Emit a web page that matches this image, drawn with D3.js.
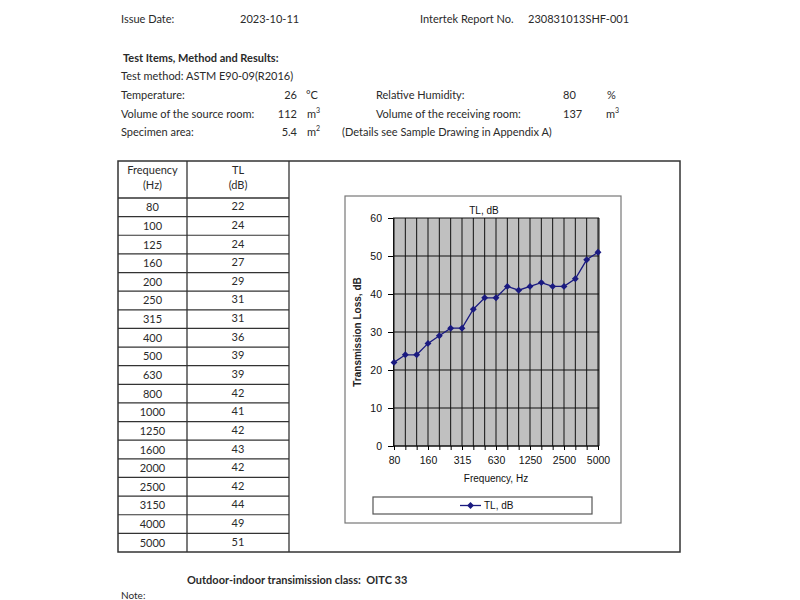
<!DOCTYPE html>
<html><head><meta charset="utf-8">
<script src="https://cdn.jsdelivr.net/npm/d3@7"></script>
<style>body{margin:0;background:#fff}svg{display:block}text{white-space:pre}</style>
</head><body>
<svg id="c" width="800" height="600"></svg>
<script>
const frequencies = ["80","100","125","160","200","250","315","400","500","630","800","1000","1250","1600","2000","2500","3150","4000","5000"];
const tlValues = [22,24,24,27,29,31,31,36,39,39,42,41,42,43,42,42,44,49,51];
const xTickLabels = ["80","160","315","630","1250","2500","5000"];
const yTicks = [0,10,20,30,40,50,60];

const svg = d3.select("#c");
const txtFont = "Lato, 'Open Sans', sans-serif";
const ink = "#2a2a2a";

function t(x,y,s,o={}){
  const e = svg.append("text").attr("x",x).attr("y",y).attr("font-family",o.font||txtFont)
    .attr("font-size",o.size||11).attr("fill",o.fill||ink).attr("text-anchor",o.anchor||"start")
    .attr("font-weight",o.weight||"normal").text(s);
  return e;
}
function sup(x,y,base,s){
  const e = t(x,y,base);
  e.append("tspan").attr("dy",-5).attr("font-size",7).text(s);
}
// header
t(121,23,"Issue Date:");
t(240,23,"2023-10-11");
t(420,23,"Intertek Report No.");
t(528,23,"230831013SHF-001");
t(123,62,"Test Items, Method and Results:",{weight:"bold"});
t(121,80,"Test method: ASTM E90-09(R2016)");
t(121,99,"Temperature:");
t(297,99,"26",{anchor:"end"});
t(306,99,"°C");
t(376,99,"Relative Humidity:");
t(563,99,"80");
t(607,99,"%");
t(121,118,"Volume of the source room:");
t(297,118,"112",{anchor:"end"});
sup(307,118,"m","3");
t(376,118,"Volume of the receiving room:");
t(563,118,"137");
sup(606,118,"m","3");
t(121,136,"Specimen area:");
t(297,136,"5.4",{anchor:"end"});
sup(307,136,"m","2");
t(342,136,"(Details see Sample Drawing in Appendix A)");

// table
const tL=118, c1=187, c2=289, tR=680, tTop=161, hB=198, tB=552;
const rowY = d3.scaleBand().domain(frequencies).range([hB,tB]);
const g = svg.append("g");
g.append("rect").attr("x",tL).attr("y",tTop).attr("width",tR-tL).attr("height",tB-tTop)
  .attr("fill","none").attr("stroke","#333").attr("stroke-width",1.5);
[c1,c2].forEach(x=>g.append("line").attr("x1",x).attr("x2",x).attr("y1",tTop).attr("y2",tB).attr("stroke","#333").attr("stroke-width",1.3));
g.append("line").attr("x1",tL).attr("x2",c2).attr("y1",hB).attr("y2",hB).attr("stroke","#333").attr("stroke-width",1.3);
frequencies.forEach((f,i)=>{
  if(i>0) g.append("line").attr("x1",tL).attr("x2",c2).attr("y1",rowY(f)).attr("y2",rowY(f)).attr("stroke","#333").attr("stroke-width",1.2);
  const cy = rowY(f)+rowY.bandwidth()/2+4;
  t((tL+c1)/2,cy,f,{anchor:"middle"});
  t((c1+c2)/2,cy-1,String(tlValues[i]),{anchor:"middle"});
});
t((tL+c1)/2,174,"Frequency",{anchor:"middle"});
t((tL+c1)/2,189,"(Hz)",{anchor:"middle"});
t((c1+c2)/2,174,"TL",{anchor:"middle"});
t((c1+c2)/2,189,"(dB)",{anchor:"middle"});

// chart frame
const cf = "'Liberation Sans', Arial, sans-serif";
svg.append("rect").attr("x",345).attr("y",196).attr("width",276).attr("height",327)
  .attr("fill","#fff").attr("stroke","#777").attr("stroke-width",1.2);

const x = d3.scalePoint().domain(frequencies).range([394,598]);
const y = d3.scaleLinear().domain([0,60]).range([446,218]);
const pL=393, pR=599;
svg.append("rect").attr("x",pL).attr("y",y(60)).attr("width",pR-pL).attr("height",y(0)-y(60)).attr("fill","#c0c0c0");
frequencies.forEach(f=>svg.append("line").attr("x1",x(f)).attr("x2",x(f)).attr("y1",y(60)).attr("y2",y(0)).attr("stroke","#111").attr("stroke-width",1));
svg.append("line").attr("x1",pR).attr("x2",pR).attr("y1",y(60)).attr("y2",y(0)).attr("stroke","#111").attr("stroke-width",1);
yTicks.forEach(v=>svg.append("line").attr("x1",pL).attr("x2",pR).attr("y1",y(v)).attr("y2",y(v)).attr("stroke","#111").attr("stroke-width",1));

// axes
const yAxis = d3.axisLeft(y).tickValues(yTicks).tickSize(5).tickPadding(6);
const ya = svg.append("g").attr("transform",`translate(${pL},0)`).call(yAxis);
ya.select(".domain").attr("stroke","#111");
ya.selectAll("text").attr("font-family",cf).attr("font-size",10.5).attr("fill","#111");
const xAxis = d3.axisBottom(x).tickSize(4).tickPadding(7).tickFormat(d=>xTickLabels.includes(d)?d:"");
const xa = svg.append("g").attr("transform",`translate(0,${y(0)})`).call(xAxis);
xa.select(".domain").attr("d",`M${pL},0H${pR}`).attr("stroke","#111");
xa.selectAll("text").attr("font-family",cf).attr("font-size",10.5).attr("fill","#111");

// titles
t(484,214,"TL, dB",{font:cf,size:10,anchor:"middle",fill:"#111"});
t(496,482,"Frequency, Hz",{font:cf,size:10,anchor:"middle",fill:"#111"});
svg.append("text").attr("transform","translate(361,332) rotate(-90)").attr("text-anchor","middle")
  .attr("font-family",cf).attr("font-size",10).attr("font-weight","bold").attr("fill","#222").text("Transmission Loss, dB");

// series
const navy = "#1a1a80";
svg.append("path").datum(tlValues).attr("fill","none").attr("stroke",navy).attr("stroke-width",1.3)
  .attr("d",d3.line().x((d,i)=>x(frequencies[i])).y(d=>y(d)));
const diamond = d3.symbol().type(d3.symbolDiamond2).size(30);
svg.selectAll("path.m").data(tlValues).enter().append("path").attr("class","m")
  .attr("d",diamond).attr("fill",navy)
  .attr("transform",(d,i)=>`translate(${x(frequencies[i])},${y(d)})`);

// legend
svg.append("rect").attr("x",373).attr("y",497).attr("width",219).attr("height",17).attr("fill","#fff").attr("stroke","#555").attr("stroke-width",1.2);
svg.append("line").attr("x1",460).attr("x2",481).attr("y1",505.5).attr("y2",505.5).attr("stroke",navy).attr("stroke-width",1.3);
svg.append("path").attr("d",diamond).attr("fill",navy).attr("transform","translate(470.5,505.5)");
t(484,509,"TL, dB",{font:cf,size:10,fill:"#111"});

// footer
t(187,584,"Outdoor-indoor transimission class:  OITC 33",{weight:"bold"});
t(121,599,"Note:",{size:10});
</script>
</body></html>
